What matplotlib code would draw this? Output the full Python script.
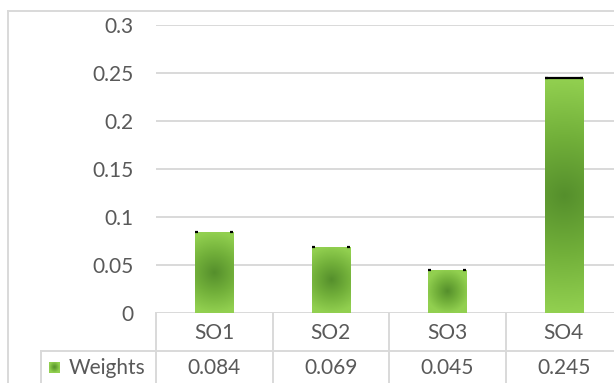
import matplotlib.pyplot as plt
import numpy as np
from matplotlib.colors import LinearSegmentedColormap

plt.rcParams["font.family"] = ["Lato", "DejaVu Sans"]

categories = ["SO1", "SO2", "SO3", "SO4"]
weights = [0.084, 0.069, 0.045, 0.245]
value_labels = ["0.084", "0.069", "0.045", "0.245"]
series_name = "Weights"
yticks = [0, 0.05, 0.1, 0.15, 0.2, 0.25, 0.3]
ytick_labels = ["0", "0.05", "0.1", "0.15", "0.2", "0.25", "0.3"]

TEXT = "#595959"
GRID = "#d9d9d9"
FS = 15
green = LinearSegmentedColormap.from_list("grn", ["#558f2c", "#72b03a", "#92d050"])

W, H = 614, 383
fig = plt.figure(figsize=(W / 100, H / 100), dpi=100)

# plot area in pixels
x0, x1 = 156, 622
ytop, ybot = 25, 312.7
ax = fig.add_axes([x0 / W, 1 - ybot / H, (x1 - x0) / W, (ybot - ytop) / H])
for s in ax.spines.values():
    s.set_visible(False)
ax.set_xticks([])
ax.set_yticks(yticks)
ax.set_yticklabels(ytick_labels)
ax.tick_params(axis="y", length=0, pad=16, labelsize=FS, labelcolor=TEXT)
ax.grid(axis="y", color=GRID, linewidth=1.4)
ax.set_axisbelow(True)

cw = (x1 - x0) / len(categories)        # px per category
py = (ybot - ytop) / 0.3                # px per unit of y

# bars with a radial fill, darker towards the middle
bw = 0.33
x = np.arange(len(categories))
bars = ax.bar(x, weights, width=bw, color="none", zorder=2)
for rect in bars:
    bx, by = rect.get_x(), rect.get_y()
    w, h = rect.get_width(), rect.get_height()
    gx = np.linspace(-w / 2, w / 2, 60) * cw
    gy = np.linspace(-h / 2, h / 2, 200) * py
    XX, YY = np.meshgrid(gx, gy)
    r = np.clip(np.hypot(XX, YY) / (h / 2 * py), 0, 1)
    im = ax.imshow(r, extent=[bx, bx + w, by, by + h], cmap=green, vmin=0, vmax=1,
                   aspect="auto", origin="lower", interpolation="bilinear", zorder=2)
    im.set_clip_path(rect)
    # dark tick marks at the top corners
    for a, b in [(bx, bx + w * 0.08), (bx + w * 0.92, bx + w)]:
        ax.plot([a, b], [by + h, by + h], color="black", lw=1.6,
                solid_capstyle="butt", zorder=3)
ax.plot([bars[3].get_x(), bars[3].get_x() + bw], [weights[3], weights[3]],
        color="black", lw=1.6, solid_capstyle="butt", zorder=3)
ax.set_xlim(-0.5, len(categories) - 0.5)
ax.set_ylim(0, 0.3)


def fx(px):
    return px / W


def fy(px):
    return 1 - px / H


# outer chart border
fig.add_artist(plt.Line2D([fx(8), fx(8)], [fy(10.5), 0], color=GRID, lw=1.4))
fig.add_artist(plt.Line2D([fx(8), 1], [fy(10.5), fy(10.5)], color=GRID, lw=1.4))

# data table below the axis
row_mid = 351
fig.add_artist(plt.Line2D([fx(41), 1], [fy(row_mid), fy(row_mid)], color=GRID, lw=1.4))
fig.add_artist(plt.Line2D([fx(41), fx(41)], [fy(row_mid), 0], color=GRID, lw=1.4))
for i in range(len(categories) + 1):
    xp = x0 + i * cw
    fig.add_artist(plt.Line2D([fx(xp), fx(xp)], [fy(ybot), 0], color=GRID, lw=1.4))
for i, (cat, val) in enumerate(zip(categories, value_labels)):
    xc = x0 + (i + 0.5) * cw
    fig.text(fx(xc), fy(333), cat, ha="center", va="center", fontsize=FS, color=TEXT)
    fig.text(fx(xc), fy(368), val, ha="center", va="center", fontsize=FS, color=TEXT)

# legend key in the table
kax = fig.add_axes([fx(49), fy(373), 11 / W, 11 / H])
kx, ky = np.meshgrid(np.linspace(-1, 1, 20), np.linspace(-1, 1, 20))
kax.imshow(np.clip(np.hypot(kx, ky), 0, 1), cmap=green, vmin=0, vmax=1,
           interpolation="bilinear", aspect="auto")
kax.axis("off")
fig.text(fx(69), fy(368), series_name, ha="left", va="center", fontsize=FS, color=TEXT)

fig.savefig("out.png", dpi=100)
